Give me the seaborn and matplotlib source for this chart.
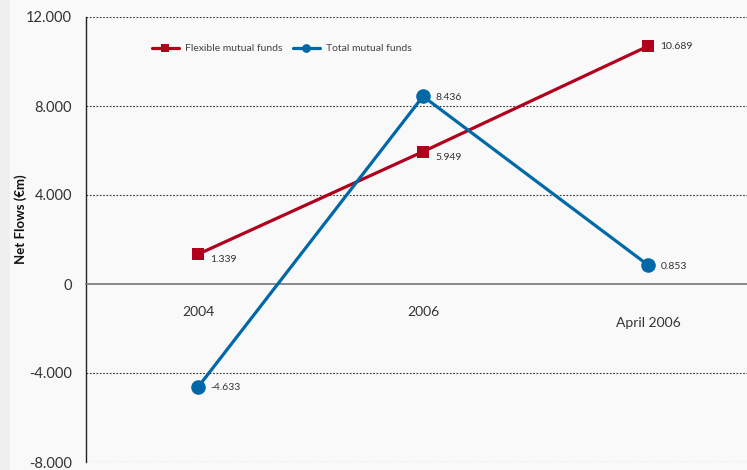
import matplotlib
matplotlib.use("Agg")
import matplotlib.pyplot as plt
import seaborn as sns
import pandas as pd
from matplotlib.patches import Rectangle

categories = ["2004", "2006", "April 2006"]
flexible = [1339, 5949, 10689]
total = [-4633, 8436, 853]
series_names = ["Flexible mutual funds", "Total mutual funds"]
yticks = [-8000, -4000, 0, 4000, 8000, 12000]
ytick_labels = ["-8.000", "-4.000", "0", "4.000", "8.000", "12.000"]

sns.set_theme(style="white")
plt.rcParams["font.family"] = ["Lato", "DejaVu Sans"]

RED = "#b0001e"
BLUE = "#0068a6"
BG = "#f9f9f9"

fig = plt.figure(figsize=(7.47, 4.70), dpi=100, facecolor=BG)
fig.patches.append(Rectangle((0, 0), 10 / 747, 1, transform=fig.transFigure,
                             facecolor="#efefef", edgecolor="none", zorder=-10))
ax = fig.add_axes([86 / 747, 8 / 470, 1 - 86 / 747, 445 / 470])
ax.set_facecolor(BG)

df = pd.DataFrame({
    "pos": list(range(len(categories))) * 2,
    "value": flexible + total,
    "series": [series_names[0]] * 3 + [series_names[1]] * 3,
})

sns.lineplot(data=df[df.series == series_names[0]], x="pos", y="value", ax=ax,
             color=RED, lw=2.3, marker="s", markersize=9, markeredgewidth=0,
             label=series_names[0], zorder=4)
sns.lineplot(data=df[df.series == series_names[1]], x="pos", y="value", ax=ax,
             color=BLUE, lw=2.3, marker="o", markersize=10.5, markeredgewidth=0,
             label=series_names[1], zorder=4)

ax.set_xlim(-0.498, 2.44)
ax.set_ylim(-8000, 12000)

# grid lines
for t in yticks:
    if t != 0:
        ax.axhline(t, color="#333333", lw=0.8, ls=(0, (1.5, 1.5)), zorder=1)

ax.set_yticks(yticks)
ax.set_yticklabels(ytick_labels, fontsize=10.5, color="#333333")
ax.tick_params(axis="y", direction="out", length=4, width=0.8, color="#222222", pad=6)

# x axis at zero
for s in ["top", "right"]:
    ax.spines[s].set_visible(False)
ax.spines["left"].set_color("#222222")
ax.spines["left"].set_linewidth(1.0)
ax.spines["bottom"].set_position(("data", 0))
ax.spines["bottom"].set_color("#777777")
ax.spines["bottom"].set_linewidth(1.2)
ax.set_xticks([0.5, 1.5])
ax.set_xticklabels(["", ""])
ax.tick_params(axis="x", direction="out", length=4, width=0.8, color="#333333")

label_offsets = [-20, -20, -28]
for i, c in enumerate(categories):
    ax.annotate(c, (i, 0), xytext=(0, label_offsets[i]), textcoords="offset points",
                ha="center", va="center", fontsize=10, color="#333333")

def fmt(v):
    return f"{v / 1000:.3f}"

for series, dy in ((flexible, [-4, -4, 0]), (total, [0, -1, -1])):
    for i, v in enumerate(series):
        ax.annotate(fmt(v), (i, v), xytext=(9, dy[i]), textcoords="offset points",
                    ha="left", va="center", fontsize=7.5, color="#333333")

ax.set_xlabel("")
ax.set_ylabel("Net Flows (€m)", fontsize=9.5, fontweight="bold", color="#111111")
ax.yaxis.set_label_coords(-0.089, 0.545)

leg = ax.legend(loc="upper left", bbox_to_anchor=(0.085, 0.96), ncol=2, frameon=False,
                fontsize=7.5, handlelength=2.6, columnspacing=1.0, handletextpad=0.6,
                markerscale=0.6)
for t in leg.get_texts():
    t.set_color("#444444")

fig.savefig("out.png", dpi=100, facecolor=BG)
